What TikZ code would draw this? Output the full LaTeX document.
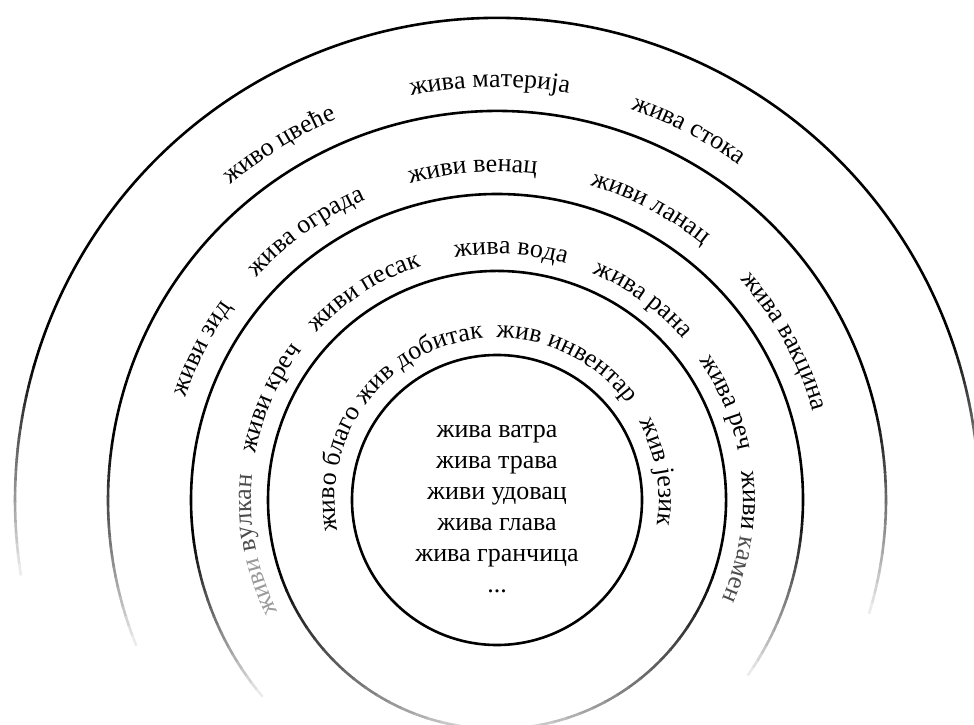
\documentclass[tikz,border=0pt]{standalone}
\usepackage{fontspec}
\setmainfont{Liberation Serif}
\usetikzlibrary{decorations.text}

\newcommand\ringfont{\fontsize{26}{31}\selectfont}
\newcommand\fadering[4]{%
  \draw[ring] (c) ++({#2+#4}:#1) arc[start angle={#2+#4}, end angle={#3-#4}, radius=#1];
  \foreach \k in {1,...,20}{
    \pgfmathsetmacro\ringgray{100-4.6*\k}
    \draw[ring, draw=black!\ringgray] (c) ++({#3-#4+(\k-1.1)*#4/20}:#1) arc[start angle={#3-#4+(\k-1.1)*#4/20}, end angle={#3-#4+\k*#4/20}, radius=#1];
    \draw[ring, draw=black!\ringgray] (c) ++({#2+#4-(\k-1.1)*#4/20}:#1) arc[start angle={#2+#4-(\k-1.1)*#4/20}, end angle={#2+#4-\k*#4/20}, radius=#1];
  }}
\tikzset{
  ring/.style={line width=2.6pt},
  lbl/.style={decorate, decoration={text along path, text align=center}}
}

\begin{document}
\begin{tikzpicture}[x=1pt, y=1pt]
\useasboundingbox (0,0) rectangle (974,724);
\clip (0,0) rectangle (974,724);
\coordinate (c) at (497,224);

\draw[ring] (c) circle[radius=145];
\fadering{229}{-90}{270}{70}
\fadering{306}{-35}{220}{32}
\fadering{389}{-17}{202}{30}
\fadering{482}{-6}{189}{25}

\node[font=\ringfont, align=center, inner sep=0pt] (list) at (497,215) {жива ватра\\жива трава\\живи удовац\\жива глава\\жива гранчица\\...};

\path[lbl, decoration={text={|\ringfont|живо цвеће}}] (c) ++(161.5:413) arc[start angle=161.5, end angle=81.5, radius=413];
\path[lbl, decoration={text={|\ringfont|жива материја}}] (c) ++(131:413) arc[start angle=131, end angle=51, radius=413];
\path[lbl, decoration={text={|\ringfont|жива стока}}] (c) ++(102.6:413) arc[start angle=102.6, end angle=22.6, radius=413];

\path[lbl, decoration={text={|\ringfont|живи зид}}] (c) ++(192.8:328) arc[start angle=192.8, end angle=112.8, radius=328];
\path[lbl, decoration={text={|\ringfont|жива ограда}}] (c) ++(165.4:328) arc[start angle=165.4, end angle=85.4, radius=328];
\path[lbl, decoration={text={|\ringfont|живи венац}}] (c) ++(134.2:328) arc[start angle=134.2, end angle=54.2, radius=328];
\path[lbl, decoration={text={|\ringfont|живи ланац}}] (c) ++(102.3:328) arc[start angle=102.3, end angle=22.3, radius=328];
\path[lbl, decoration={text={|\ringfont|жива вакцина}}] (c) ++(68.9:328) arc[start angle=68.9, end angle=-11.1, radius=328];

\path[lbl, decoration={text={|\ringfont\color{black!40}|живи |\ringfont\color{black!70}|вулкан}}] (c) ++(230.5:246) arc[start angle=230.5, end angle=150.5, radius=246];
\path[lbl, decoration={text={|\ringfont|живи креч}}] (c) ++(195.8:246) arc[start angle=195.8, end angle=115.8, radius=246];
\path[lbl, decoration={text={|\ringfont|живи песак}}] (c) ++(162.6:246) arc[start angle=162.6, end angle=82.6, radius=246];
\path[lbl, decoration={text={|\ringfont|жива вода}}] (c) ++(126.8:246) arc[start angle=126.8, end angle=46.8, radius=246];
\path[lbl, decoration={text={|\ringfont|жива рана}}] (c) ++(94:246) arc[start angle=94, end angle=14, radius=246];
\path[lbl, decoration={text={|\ringfont|жива реч}}] (c) ++(63:246) arc[start angle=63, end angle=-17, radius=246];
\path[lbl, decoration={text={|\ringfont|живи |\ringfont\color{black!70}|камен}}] (c) ++(31.5:246) arc[start angle=31.5, end angle=-48.5, radius=246];

\path[lbl, decoration={text={|\ringfont|живо благо}}] (c) ++(208.9:162) arc[start angle=208.9, end angle=128.9, radius=162];
\path[lbl, decoration={text={|\ringfont|жив добитак}}] (c) ++(159.5:162) arc[start angle=159.5, end angle=79.5, radius=162];
\path[lbl, decoration={text={|\ringfont|жив инвентар}}] (c) ++(103.3:162) arc[start angle=103.3, end angle=23.3, radius=162];
\path[lbl, decoration={text={|\ringfont|жив језик}}] (c) ++(50:162) arc[start angle=50, end angle=-30, radius=162];
\end{tikzpicture}
\end{document}
